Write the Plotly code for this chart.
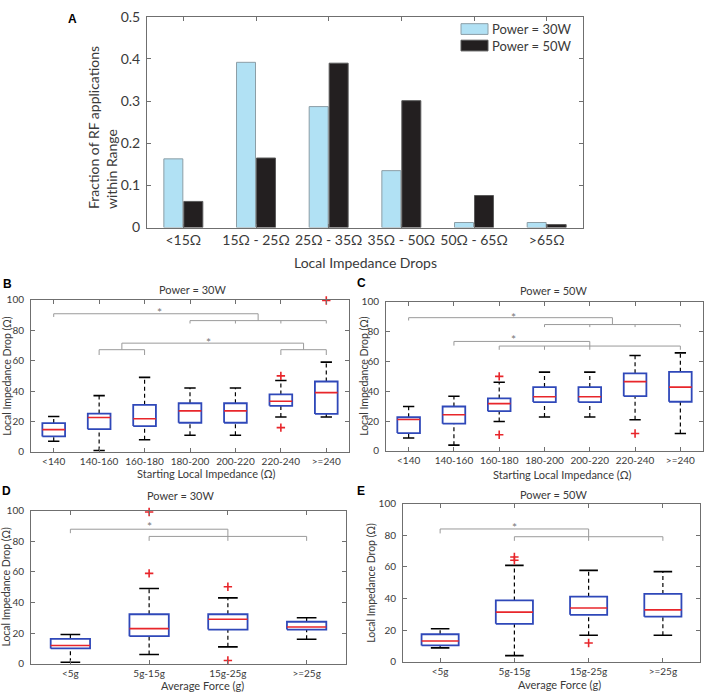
import plotly.graph_objects as go

W, H = 708, 700

# ---- panel A : histogram of impedance drops
drop_ranges = ['<15Ω', '15Ω - 25Ω', '25Ω - 35Ω', '35Ω - 50Ω', '50Ω - 65Ω', '>65Ω']
frac_30w = [0.163, 0.392, 0.287, 0.135, 0.012, 0.012]
frac_50w = [0.062, 0.165, 0.390, 0.301, 0.076, 0.007]
series_names = ['Power = 30W', 'Power = 50W']

# ---- panels B / C : drop vs starting impedance
imp_cats = ['<140', '140-160', '160-180', '180-200', '200-220', '220-240', '>=240']
b_low = [7, 1, 8, 11, 11, 23, 23]
b_q1 = [10.2, 15, 17, 19.2, 19.2, 30.3, 25]
b_med = [14.7, 22.6, 21.8, 27, 27, 33.3, 39]
b_q3 = [19, 25.2, 31, 32, 32, 37.8, 46.3]
b_high = [23.3, 37, 49, 42, 42, 47, 59]
b_out = [[], [], [], [], [], [50, 16], [99.5]]

c_low = [8.7, 3.9, 19.8, 22.8, 22.8, 20.9, 11.7]
c_q1 = [12, 18.3, 26.7, 32.8, 32.8, 36.7, 33]
c_med = [21.1, 24.3, 31.7, 36.3, 36.3, 46.5, 42.8]
c_q3 = [22.6, 29.8, 35.2, 42.8, 42.8, 52, 53]
c_high = [29.8, 36.7, 46, 52.8, 52.8, 64, 65.7]
c_out = [[], [], [50, 10.9], [], [], [11.7], []]

# ---- panels D / E : drop vs average force
force_cats = ['<5g', '5g-15g', '15g-25g', '>=25g']
d_low = [1, 6, 11, 16]
d_q1 = [10, 18, 22.3, 22.3]
d_med = [11.9, 22.9, 29, 24]
d_q3 = [16.2, 32.3, 32.3, 27.4]
d_high = [19.1, 49.1, 43, 30]
d_out = [[], [59, 99], [50.2, 2.1], []]

e_low = [8.8, 3.9, 16.8, 16.8]
e_q1 = [10.3, 24, 29.7, 28.5]
e_med = [13.1, 31.4, 34, 32.8]
e_q3 = [17.4, 38.8, 41.2, 42.9]
e_high = [20.9, 61, 57.8, 57]
e_out = [[], [66.3, 64.2], [11.9], []]

# significance brackets: (x from, x to, level, [(x, drop to), ...])
b_brackets = [(0, 4.5, 90.8, [(0, 88.7), (4.5, 86.3)]),
              (3, 6, 86.3, [(3, 84.4), (4, 84.4), (5, 84.4), (6, 84.4)]),
              (1.5, 5.5, 71.5, [(1.5, 67.2), (5.5, 67.2)]),
              (1, 2, 67.2, [(1, 63.7), (2, 63.7)]),
              (5, 6, 67.2, [(5, 63.7), (6, 63.7)])]
b_stars = [(2.33, 93.6), (3.4, 74)]
c_brackets = [(0, 4.5, 89.3, [(0, 87.4), (4.5, 84.7)]),
              (3, 6, 84.7, [(3, 83), (4, 83), (5, 83), (6, 83)]),
              (1, 4, 73.4, [(1, 70.6), (4, 67.8)]),
              (2, 6, 70.3, [(2, 67.8), (3, 67.8), (6, 67.8)])]
c_stars = [(2.32, 91.7), (2.32, 77)]
d_brackets = [(0, 2, 87.8, [(0, 85.2), (2, 80.2)]),
              (1, 3, 83.1, [(1, 80.2), (3, 80.2)])]
d_stars = [(1, 91.2)]
e_brackets = [(0, 2, 84, [(0, 81.2), (2, 76.5)]),
              (1, 3, 79.1, [(1, 76.5), (3, 76.5)])]
e_stars = [(1, 87)]

FONT = 'Lato'
AXC = '#6f6f6f'
TXT = '#3a3a3a'
BLUE = '#2f48b9'
RED = '#e8262b'
GRAY = '#9a9a9a'


def px_x(a, b):
    return [a / W, b / W]


def px_y(top, bottom):
    return [1 - bottom / H, 1 - top / H]


def ax_style(size):
    return dict(showline=True, linecolor=AXC, linewidth=1, mirror='ticks',
                ticks='inside', ticklen=4, tickcolor=AXC, showgrid=False,
                zeroline=False, tickfont=dict(family=FONT, size=size, color=TXT))


fig = go.Figure()

fig.add_trace(go.Bar(x=drop_ranges, y=frac_30w, name=series_names[0],
                     marker=dict(color='#b1e1f4', line=dict(color='#8c9ea6', width=1)),
                     xaxis='x', yaxis='y', showlegend=False))
fig.add_trace(go.Bar(x=drop_ranges, y=frac_50w, name=series_names[1],
                     marker=dict(color='#231f20', line=dict(color='#5a5a5a', width=1)),
                     xaxis='x', yaxis='y', showlegend=False))


def add_boxes(xa, ya, low, q1, med, q3, high, out, brackets, stars):
    hw, cw = 0.25, 0.125
    bx, by, mx, my, wx, wy, cx, cy, ox, oy = [], [], [], [], [], [], [], [], [], []
    for i in range(len(med)):
        bx += [i - hw, i + hw, i + hw, i - hw, i - hw, None]
        by += [q1[i], q1[i], q3[i], q3[i], q1[i], None]
        mx += [i - hw, i + hw, None]
        my += [med[i], med[i], None]
        wx += [i, i, None, i, i, None]
        wy += [q3[i], high[i], None, low[i], q1[i], None]
        cx += [i - cw, i + cw, None, i - cw, i + cw, None]
        cy += [high[i], high[i], None, low[i], low[i], None]
        for v in out[i]:
            ox.append(i)
            oy.append(v)
    common = dict(xaxis=xa, yaxis=ya, showlegend=False, hoverinfo='skip', cliponaxis=False)
    fig.add_trace(go.Scatter(x=wx, y=wy, mode='lines',
                             line=dict(color='black', width=1.2, dash='4px,3px'), **common))
    fig.add_trace(go.Scatter(x=cx, y=cy, mode='lines',
                             line=dict(color='black', width=1.6), **common))
    fig.add_trace(go.Scatter(x=bx, y=by, mode='lines',
                             line=dict(color=BLUE, width=1.8), **common))
    fig.add_trace(go.Scatter(x=mx, y=my, mode='lines',
                             line=dict(color=RED, width=1.6), **common))
    fig.add_trace(go.Scatter(x=ox, y=oy, mode='markers',
                             marker=dict(symbol='cross-thin', size=6,
                                         line=dict(color=RED, width=1.6)), **common))
    lx, ly = [], []
    for x0, x1, lev, drops in brackets:
        lx += [x0, x1, None]
        ly += [lev, lev, None]
        for dx, dy in drops:
            lx += [dx, dx, None]
            ly += [lev, dy, None]
    fig.add_trace(go.Scatter(x=lx, y=ly, mode='lines',
                             line=dict(color=GRAY, width=1), **common))
    for sx, sy in stars:
        fig.add_annotation(x=sx, y=sy, xref=xa, yref=ya, text='*', showarrow=False,
                           yshift=-3, font=dict(family=FONT, size=12, color='#777777'))


add_boxes('x2', 'y2', b_low, b_q1, b_med, b_q3, b_high, b_out, b_brackets, b_stars)
add_boxes('x3', 'y3', c_low, c_q1, c_med, c_q3, c_high, c_out, c_brackets, c_stars)
add_boxes('x4', 'y4', d_low, d_q1, d_med, d_q3, d_high, d_out, d_brackets, d_stars)
add_boxes('x5', 'y5', e_low, e_q1, e_med, e_q3, e_high, e_out, e_brackets, e_stars)

layout = dict(
    width=W, height=H, margin=dict(l=0, r=0, t=0, b=0),
    paper_bgcolor='white', plot_bgcolor='white',
    barmode='group', bargap=0.45, bargroupgap=0.05,
    font=dict(family=FONT, color=TXT),
)
layout['xaxis'] = dict(ax_style(14), domain=px_x(147, 583), anchor='y')
layout['yaxis'] = dict(ax_style(14), domain=px_y(8, 224), anchor='x',
                       range=[0, 0.5], dtick=0.1, ticklabelstandoff=3)

panels = [('2', imp_cats, px_x(31, 349), px_y(298, 454)),
          ('3', imp_cats, px_x(386, 703), px_y(300, 453)),
          ('4', force_cats, px_x(31, 346), px_y(514, 671)),
          ('5', force_cats, px_x(403, 700), px_y(507, 669))]
for k, cats, dx, dy in panels:
    layout['xaxis' + k] = dict(ax_style(10), domain=dx, anchor='y' + k,
                               range=[-0.5, len(cats) - 0.5],
                               tickvals=list(range(len(cats))), ticktext=cats)
    layout['yaxis' + k] = dict(ax_style(10), domain=dy, anchor='x' + k,
                               range=[0, 100], dtick=20, ticklabelstandoff=4)
fig.update_layout(**layout)


def label(text, x, y, size, bold=False, angle=0, anchor='center', family=FONT):
    fig.add_annotation(x=x / W, y=1 - y / H, xref='paper', yref='paper', text=text,
                       showarrow=False, textangle=angle, xanchor=anchor, yanchor='middle',
                       borderpad=0, align='left',
                       font=dict(family=family, size=size, color='black' if bold else TXT))


# panel letters
for t, x, y in [('A', 72, 10), ('B', 7, 282), ('C', 361, 281), ('D', 6, 494), ('E', 361, 494)]:
    label('<b>%s</b>' % t, x, y, 12, bold=True, family='Liberation Sans')

# panel A titles and legend (one text block, two patches)
label('Local Impedance Drops', 365, 260, 14)
label('Fraction of RF applications<br>within Range', 102, 122, 14, angle=-90)
leg_size = 13
leg_step = 1.3 * leg_size
leg_mid = 29
for i, (col, ln) in enumerate(zip(['#b1e1f4', '#231f20'], ['#8c9ea6', '#5a5a5a'])):
    cy = leg_mid + (i - 0.5) * leg_step
    fig.add_shape(type='rect', xref='paper', yref='paper', x0=461 / W, x1=488 / W,
                  y0=1 - (cy + 5.5) / H, y1=1 - (cy - 5.5) / H, fillcolor=col,
                  line=dict(color=ln, width=1))
label('<br>'.join(series_names), 491, leg_mid, leg_size, anchor='left')

# panel titles
for t, x, y in [('Power = 30W', 192, 287), ('Power = 50W', 553, 288),
                ('Power = 30W', 180, 499), ('Power = 50W', 553, 498)]:
    label(t, x, y, 11)

# axis titles
label('Starting Local Impedance (Ω)', 206, 476, 11)
label('Starting Local Impedance (Ω)', 562, 477, 11)
label('Average Force (g)', 202, 693, 11)
label('Average Force (g)', 559, 692, 11)
for x, y in [(7, 376), (364, 376), (6, 592), (371, 588)]:
    label('Local Impedance Drop (Ω)', x, y, 10.5, angle=-90)

# drop the browser's default 8px body margin so the figure sits at the page origin
fig.write_html("out.html", config={'displayModeBar': False},
               post_script="document.body.style.margin='0px';")
